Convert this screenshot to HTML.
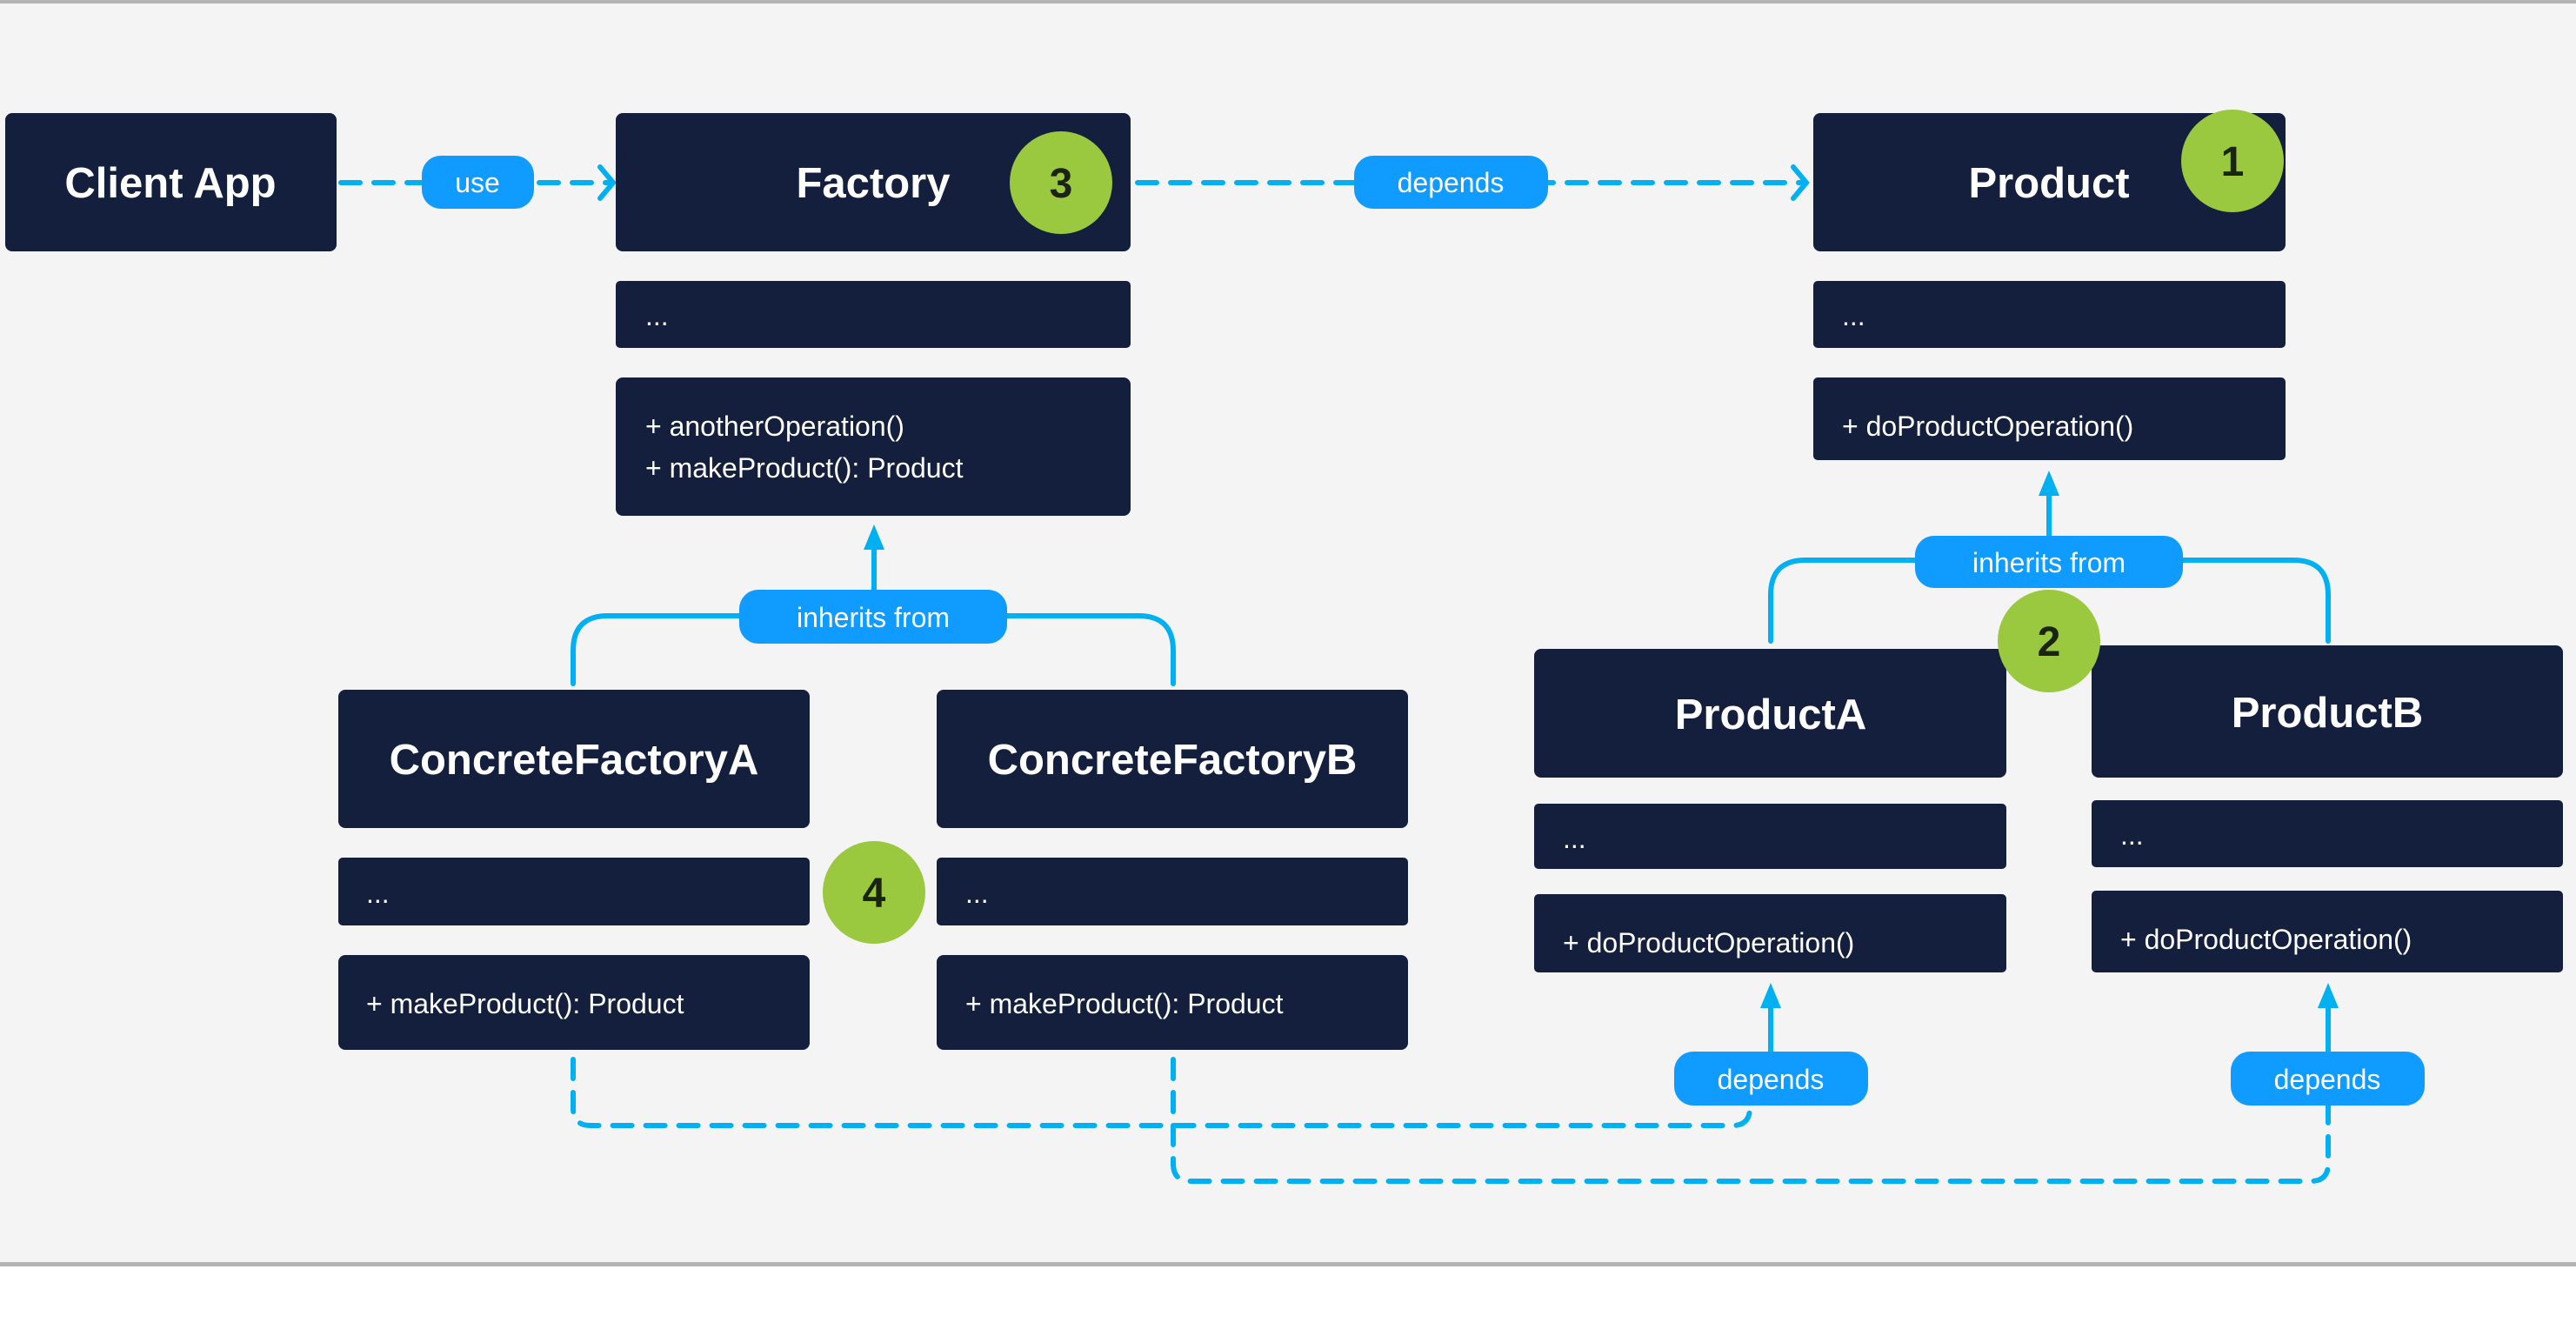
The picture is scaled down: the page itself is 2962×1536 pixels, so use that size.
<!DOCTYPE html>
<html><head><meta charset="utf-8"><style>html,body{margin:0;padding:0;background:#fff}svg{display:block}</style></head><body>
<svg width="2962" height="1536" viewBox="0 0 2962 1536" xmlns="http://www.w3.org/2000/svg" font-family="Liberation Sans, sans-serif">
<rect x="0" y="0" width="2962" height="1453" fill="#f4f4f4"/>
<rect x="0" y="0" width="2962" height="4" fill="#b3b3b3"/>
<rect x="0" y="1451" width="2962" height="5" fill="#b3b3b3"/>
<g fill="none" stroke="#00b0f0" stroke-width="6" stroke-linecap="round">
<g stroke-dasharray="22 16">
<line x1="392" y1="210" x2="700" y2="210"/>
<line x1="1308" y1="210" x2="2072" y2="210"/>
<path d="M659 1218 L659 1274 Q659 1294 679 1294 L1992 1294 Q2012 1294 2012 1274"/>
<path d="M1349 1218 L1349 1338 Q1349 1358 1369 1358 L2657 1358 Q2677 1358 2677 1338 L2677 1271"/>
</g>
<polyline points="690,192 705,210 690,228"/>
<polyline points="2062,192 2077,210 2062,228"/>
<path d="M659 786 L659 748 Q659 708 699 708 L1309 708 Q1349 708 1349 748 L1349 786"/>
<line x1="1005" y1="708" x2="1005" y2="620"/>
<path d="M2036 737 L2036 684 Q2036 644 2076 644 L2637 644 Q2677 644 2677 684 L2677 737"/>
<line x1="2356" y1="644" x2="2356" y2="560"/>
<line x1="2036" y1="1209" x2="2036" y2="1146"/>
<line x1="2677" y1="1209" x2="2677" y2="1146"/>
</g>
<g fill="#00b0f0">
<polygon points="1005,603 993,632 1017,632"/>
<polygon points="2356,541 2344,570 2368,570"/>
<polygon points="2036,1130 2024,1159 2048,1159"/>
<polygon points="2677,1130 2665,1159 2689,1159"/>
</g>
<g fill="#131f3c">
<rect x="6" y="130" width="381" height="159" rx="8"/>
<rect x="708" y="130" width="592" height="159" rx="8"/>
<rect x="708" y="323" width="592" height="77" rx="5"/>
<rect x="708" y="434" width="592" height="159" rx="8"/>
<rect x="2085" y="130" width="543" height="159" rx="8"/>
<rect x="2085" y="323" width="543" height="77" rx="5"/>
<rect x="2085" y="434" width="543" height="95" rx="5"/>
<rect x="389" y="793" width="542" height="159" rx="8"/>
<rect x="389" y="986" width="542" height="78" rx="5"/>
<rect x="389" y="1098" width="542" height="109" rx="8"/>
<rect x="1077" y="793" width="542" height="159" rx="8"/>
<rect x="1077" y="986" width="542" height="78" rx="5"/>
<rect x="1077" y="1098" width="542" height="109" rx="8"/>
<rect x="1764" y="746" width="543" height="148" rx="8"/>
<rect x="1764" y="924" width="543" height="75" rx="5"/>
<rect x="1764" y="1028" width="543" height="90" rx="5"/>
<rect x="2405" y="742" width="542" height="152" rx="8"/>
<rect x="2405" y="920" width="542" height="77" rx="5"/>
<rect x="2405" y="1024" width="542" height="94" rx="5"/>
</g>
<g fill="#0f9bff">
<rect x="485" y="179" width="129" height="61" rx="22"/>
<rect x="1557" y="179" width="223" height="61" rx="22"/>
<rect x="850" y="678" width="308" height="62" rx="22"/>
<rect x="2202" y="616" width="308" height="60" rx="22"/>
<rect x="1925" y="1209" width="223" height="62" rx="22"/>
<rect x="2565" y="1209" width="223" height="62" rx="22"/>
</g>
<g fill="#9ac83e">
<circle cx="1220" cy="210" r="59"/>
<circle cx="2567" cy="185" r="59"/>
<circle cx="2356" cy="737" r="59"/>
<circle cx="1005" cy="1026" r="59"/>
</g>
<g fill="#1a2410" font-size="48" font-weight="bold" text-anchor="middle">
<text x="1220" y="227">3</text>
<text x="2567" y="202">1</text>
<text x="2356" y="754">2</text>
<text x="1005" y="1043">4</text>
</g>
<g fill="#fff" font-size="49" font-weight="bold" text-anchor="middle">
<text x="196" y="227">Client App</text>
<text x="1004" y="227">Factory</text>
<text x="2356" y="227">Product</text>
<text x="660" y="890">ConcreteFactoryA</text>
<text x="1348" y="890">ConcreteFactoryB</text>
<text x="2036" y="838">ProductA</text>
<text x="2676" y="836">ProductB</text>
</g>
<g fill="#fff" font-size="32" text-anchor="middle">
<text x="549" y="221">use</text>
<text x="1668" y="221">depends</text>
<text x="1004" y="721">inherits from</text>
<text x="2356" y="658">inherits from</text>
<text x="2036" y="1252">depends</text>
<text x="2676" y="1252">depends</text>
</g>
<g fill="#fff" font-size="32">
<text x="742" y="374">...</text>
<text x="742" y="501">+ anotherOperation()</text>
<text x="742" y="549">+ makeProduct(): Product</text>
<text x="2118" y="374">...</text>
<text x="2118" y="501">+ doProductOperation()</text>
<text x="421" y="1038">...</text>
<text x="421" y="1165">+ makeProduct(): Product</text>
<text x="1110" y="1038">...</text>
<text x="1110" y="1165">+ makeProduct(): Product</text>
<text x="1797" y="975">...</text>
<text x="1797" y="1095">+ doProductOperation()</text>
<text x="2438" y="971">...</text>
<text x="2438" y="1091">+ doProductOperation()</text>
</g>
</svg>
</body></html>
